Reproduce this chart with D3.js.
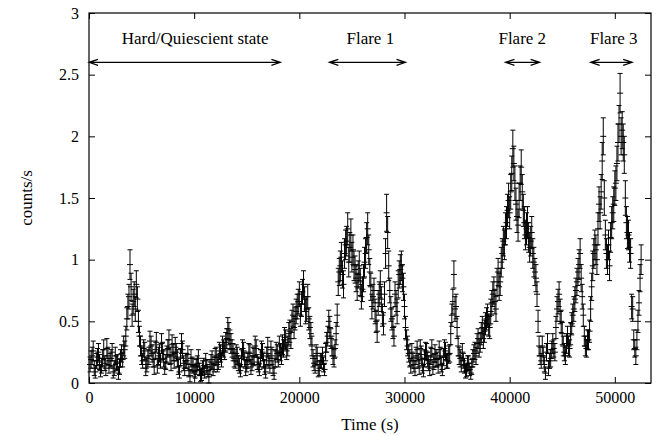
<!DOCTYPE html>
<html>
<head>
<meta charset="utf-8">
<script src="https://cdn.jsdelivr.net/npm/d3@7"></script>
<style>
  body { margin: 0; background: white; }
  svg { display: block; }
</style>
</head>
<body>
<svg id="chart" width="657" height="437"></svg>
<script>
// light curve: bin centre (s), rate (counts/s), 1-sigma error
const time = [
  100, 200, 300, 400, 500, 600, 700, 800, 900, 1000, 1100, 1200, 1300, 1400, 1500, 1600, 1700, 1800, 1900, 2000,
  2100, 2200, 2300, 2400, 2500, 2600, 2700, 2800, 2900, 3000, 3100, 3200, 3300, 3400, 3500, 3600, 3700, 3800, 3900, 4000,
  4100, 4200, 4300, 4400, 4500, 4600, 4700, 4800, 4900, 5000, 5100, 5200, 5300, 5400, 5500, 5600, 5700, 5800, 5900, 6000,
  6100, 6200, 6300, 6400, 6500, 6600, 6700, 6800, 6900, 7000, 7100, 7200, 7300, 7400, 7500, 7600, 7700, 7800, 7900, 8000,
  8100, 8200, 8300, 8400, 8500, 8600, 8700, 8800, 8900, 9000, 9100, 9200, 9300, 9400, 9500, 9600, 9700, 9800, 9900, 10000,
  10100, 10200, 10300, 10400, 10500, 10600, 10700, 10800, 10900, 11000, 11100, 11200, 11300, 11400, 11500, 11600, 11700, 11800, 11900, 12000,
  12100, 12200, 12300, 12400, 12500, 12600, 12700, 12800, 12900, 13000, 13100, 13200, 13300, 13400, 13500, 13600, 13700, 13800, 13900, 14000,
  14100, 14200, 14300, 14400, 14500, 14600, 14700, 14800, 14900, 15000, 15100, 15200, 15300, 15400, 15500, 15600, 15700, 15800, 15900, 16000,
  16100, 16200, 16300, 16400, 16500, 16600, 16700, 16800, 16900, 17000, 17100, 17200, 17300, 17400, 17500, 17600, 17700, 17800, 17900, 18000,
  18100, 18200, 18300, 18400, 18500, 18600, 18700, 18800, 18900, 19000, 19100, 19200, 19300, 19400, 19500, 19600, 19700, 19800, 19900, 20000,
  20100, 20200, 20300, 20400, 20500, 20600, 20700, 20800, 20900, 21000, 21100, 21200, 21300, 21400, 21500, 21600, 21700, 21800, 21900, 22000,
  22100, 22200, 22300, 22400, 22500, 22600, 22700, 22800, 22900, 23000, 23100, 23200, 23300, 23400, 23500, 23600, 23700, 23800, 23900, 24000,
  24100, 24200, 24300, 24400, 24500, 24600, 24700, 24800, 24900, 25000, 25100, 25200, 25300, 25400, 25500, 25600, 25700, 25800, 25900, 26000,
  26100, 26200, 26300, 26400, 26500, 26600, 26700, 26800, 26900, 27000, 27100, 27200, 27300, 27400, 27500, 27600, 27700, 27800, 27900, 28000,
  28100, 28200, 28300, 28400, 28500, 28600, 28700, 28800, 28900, 29000, 29100, 29200, 29300, 29400, 29500, 29600, 29700, 29800, 29900, 30000,
  30100, 30200, 30300, 30400, 30500, 30600, 30700, 30800, 30900, 31000, 31100, 31200, 31300, 31400, 31500, 31600, 31700, 31800, 31900, 32000,
  32100, 32200, 32300, 32400, 32500, 32600, 32700, 32800, 32900, 33000, 33100, 33200, 33300, 33400, 33500, 33600, 33700, 33800, 33900, 34000,
  34100, 34200, 34300, 34400, 34500, 34600, 34700, 34800, 34900, 35000, 35100, 35200, 35300, 35400, 35500, 35600, 35700, 35800, 35900, 36000,
  36100, 36200, 36300, 36400, 36500, 36600, 36700, 36800, 36900, 37000, 37100, 37200, 37300, 37400, 37500, 37600, 37700, 37800, 37900, 38000,
  38100, 38200, 38300, 38400, 38500, 38600, 38700, 38800, 38900, 39000, 39100, 39200, 39300, 39400, 39500, 39600, 39700, 39800, 39900, 40000,
  40100, 40200, 40300, 40400, 40500, 40600, 40700, 40800, 40900, 41000, 41100, 41200, 41300, 41400, 41500, 41600, 41700, 41800, 41900, 42000,
  42100, 42200, 42300, 42400, 42500, 42600, 42700, 42800, 42900, 43000, 43100, 43200, 43300, 43400, 43500, 43600, 43700, 43800, 43900, 44000,
  44100, 44200, 44300, 44400, 44500, 44600, 44700, 44800, 44900, 45000, 45100, 45200, 45300, 45400, 45500, 45600, 45700, 45800, 45900, 46000,
  46100, 46200, 46300, 46400, 46500, 46600, 46700, 46800, 46900, 47000, 47100, 47200, 47300, 47400, 47500, 47600, 47700, 47800, 47900, 48000,
  48100, 48200, 48300, 48400, 48500, 48600, 48700, 48800, 48900, 49000, 49100, 49200, 49300, 49400, 49500, 49600, 49700, 49800, 49900, 50000,
  50100, 50200, 50300, 50400, 50500, 50600, 50700, 50800, 50900, 51000, 51100, 51200, 51300, 51400, 51500, 51600, 51700, 51800, 51900, 52000,
  52100, 52200, 52300, 52400, 52500
];

const rate = [
  0.15, 0.19, 0.22, 0.26, 0.12, 0.09, 0.18, 0.21, 0.25, 0.17, 0.10, 0.14, 0.20, 0.27, 0.16, 0.12, 0.28, 0.22, 0.14, 0.18,
  0.20, 0.25, 0.09, 0.12, 0.22, 0.16, 0.17, 0.08, 0.13, 0.20, 0.24, 0.19, 0.30, 0.27, 0.38, 0.52, 0.62, 0.70, 0.96, 0.78,
  0.55, 0.66, 0.72, 0.60, 0.80, 0.68, 0.50, 0.38, 0.30, 0.22, 0.18, 0.28, 0.26, 0.12, 0.15, 0.20, 0.22, 0.34, 0.30, 0.24,
  0.19, 0.13, 0.27, 0.33, 0.14, 0.22, 0.24, 0.18, 0.32, 0.26, 0.20, 0.12, 0.17, 0.23, 0.28, 0.35, 0.22, 0.16, 0.31, 0.25,
  0.18, 0.29, 0.25, 0.20, 0.13, 0.09, 0.21, 0.32, 0.27, 0.16, 0.12, 0.18, 0.18, 0.23, 0.10, 0.06, 0.20, 0.15, 0.14, 0.10,
  0.09, 0.13, 0.16, 0.20, 0.11, 0.06, 0.07, 0.12, 0.14, 0.09, 0.18, 0.13, 0.10, 0.05, 0.13, 0.17, 0.19, 0.11, 0.15, 0.21,
  0.22, 0.15, 0.17, 0.26, 0.24, 0.19, 0.30, 0.28, 0.26, 0.33, 0.36, 0.44, 0.40, 0.35, 0.32, 0.28, 0.25, 0.20, 0.18, 0.24,
  0.22, 0.16, 0.14, 0.10, 0.20, 0.28, 0.26, 0.19, 0.12, 0.15, 0.18, 0.25, 0.24, 0.13, 0.16, 0.22, 0.21, 0.30, 0.28, 0.17,
  0.15, 0.11, 0.20, 0.27, 0.25, 0.18, 0.13, 0.09, 0.22, 0.29, 0.18, 0.14, 0.27, 0.22, 0.12, 0.08, 0.20, 0.26, 0.24, 0.19,
  0.30, 0.25, 0.22, 0.31, 0.28, 0.37, 0.35, 0.26, 0.30, 0.40, 0.42, 0.36, 0.50, 0.55, 0.45, 0.52, 0.58, 0.62, 0.66, 0.72,
  0.55, 0.64, 0.74, 0.80, 0.68, 0.58, 0.60, 0.70, 0.52, 0.45, 0.40, 0.30, 0.20, 0.16, 0.14, 0.24, 0.22, 0.10, 0.12, 0.18,
  0.18, 0.22, 0.15, 0.11, 0.25, 0.33, 0.38, 0.50, 0.45, 0.36, 0.30, 0.22, 0.20, 0.28, 0.40, 0.55, 0.82, 0.90, 0.95, 1.02,
  0.88, 0.80, 1.05, 1.12, 1.15, 1.25, 0.98, 1.10, 1.20, 1.02, 1.08, 0.95, 0.92, 0.85, 0.78, 0.88, 0.95, 0.82, 0.70, 0.76,
  0.85, 0.98, 1.05, 1.18, 1.25, 1.08, 0.90, 0.78, 0.62, 0.70, 0.75, 0.58, 0.50, 0.42, 0.65, 0.72, 0.80, 0.68, 0.55, 0.48,
  0.72, 1.05, 1.38, 1.22, 0.95, 0.75, 0.60, 0.52, 0.45, 0.38, 0.72, 0.65, 0.58, 0.80, 0.88, 0.92, 0.95, 0.85, 0.78, 0.62,
  0.45, 0.35, 0.30, 0.24, 0.20, 0.14, 0.25, 0.18, 0.15, 0.12, 0.22, 0.27, 0.18, 0.13, 0.28, 0.23, 0.14, 0.10, 0.20, 0.26,
  0.25, 0.19, 0.16, 0.12, 0.22, 0.28, 0.13, 0.17, 0.24, 0.20, 0.19, 0.14, 0.27, 0.22, 0.15, 0.11, 0.21, 0.28, 0.26, 0.18,
  0.18, 0.23, 0.24, 0.40, 0.55, 0.66, 0.88, 0.60, 0.62, 0.45, 0.30, 0.22, 0.20, 0.15, 0.25, 0.18, 0.14, 0.09, 0.10, 0.16,
  0.16, 0.11, 0.08, 0.13, 0.20, 0.24, 0.26, 0.22, 0.32, 0.36, 0.28, 0.33, 0.40, 0.45, 0.36, 0.42, 0.48, 0.52, 0.55, 0.47,
  0.45, 0.58, 0.65, 0.72, 0.75, 0.66, 0.60, 0.82, 0.90, 0.78, 0.82, 0.98, 1.05, 1.15, 1.12, 1.25, 1.30, 1.40, 1.48, 1.38,
  1.55, 1.70, 1.90, 1.78, 1.62, 1.45, 1.35, 1.28, 1.48, 1.62, 1.75, 1.55, 1.40, 1.30, 1.20, 1.25, 1.30, 1.18, 1.10, 1.15,
  1.22, 1.05, 0.98, 0.90, 0.85, 0.72, 0.50, 0.30, 0.22, 0.18, 0.30, 0.22, 0.15, 0.08, 0.25, 0.32, 0.12, 0.18, 0.20, 0.27,
  0.32, 0.28, 0.25, 0.45, 0.60, 0.66, 0.72, 0.58, 0.50, 0.40, 0.30, 0.25, 0.22, 0.32, 0.38, 0.30, 0.28, 0.40, 0.48, 0.55,
  0.60, 0.68, 0.75, 0.82, 0.90, 0.96, 1.05, 0.85, 0.70, 0.55, 0.38, 0.30, 0.28, 0.35, 0.35, 0.42, 0.60, 0.78, 0.95, 1.05,
  1.12, 1.08, 1.00, 1.25, 1.45, 1.38, 1.55, 1.80, 2.00, 1.50, 1.20, 1.05, 1.00, 1.12, 0.95, 1.18, 1.30, 1.38, 1.45, 1.58,
  1.62, 1.78, 1.95, 2.10, 2.35, 2.00, 2.05, 1.95, 1.85, 1.50, 1.30, 1.22, 1.20, 1.10, 1.05, 0.62, 0.60, 0.35, 0.28, 0.22,
  0.35, 0.50, 0.65, 0.85, 1.00
];

const rateErr = [
  0.06, 0.07, 0.07, 0.08, 0.06, 0.05, 0.06, 0.07, 0.07, 0.06, 0.05, 0.06, 0.07, 0.08, 0.06, 0.06, 0.08, 0.07, 0.06, 0.06,
  0.07, 0.07, 0.05, 0.06, 0.07, 0.06, 0.06, 0.05, 0.06, 0.07, 0.07, 0.06, 0.08, 0.07, 0.08, 0.09, 0.10, 0.10, 0.12, 0.11,
  0.09, 0.10, 0.10, 0.10, 0.11, 0.10, 0.09, 0.08, 0.08, 0.07, 0.06, 0.07, 0.07, 0.06, 0.06, 0.07, 0.07, 0.08, 0.08, 0.07,
  0.06, 0.06, 0.07, 0.08, 0.06, 0.07, 0.07, 0.06, 0.08, 0.07, 0.07, 0.05, 0.06, 0.07, 0.07, 0.08, 0.07, 0.06, 0.08, 0.07,
  0.06, 0.08, 0.07, 0.07, 0.06, 0.05, 0.07, 0.08, 0.07, 0.06, 0.06, 0.06, 0.06, 0.07, 0.05, 0.05, 0.07, 0.06, 0.06, 0.05,
  0.05, 0.06, 0.06, 0.07, 0.05, 0.05, 0.05, 0.06, 0.06, 0.05, 0.06, 0.06, 0.05, 0.05, 0.06, 0.06, 0.07, 0.05, 0.06, 0.07,
  0.07, 0.06, 0.06, 0.07, 0.07, 0.06, 0.08, 0.07, 0.07, 0.08, 0.08, 0.09, 0.09, 0.08, 0.08, 0.07, 0.07, 0.07, 0.06, 0.07,
  0.07, 0.06, 0.06, 0.05, 0.07, 0.07, 0.07, 0.06, 0.06, 0.06, 0.06, 0.07, 0.07, 0.06, 0.06, 0.07, 0.07, 0.08, 0.07, 0.06,
  0.06, 0.05, 0.07, 0.07, 0.07, 0.06, 0.06, 0.05, 0.07, 0.08, 0.06, 0.06, 0.07, 0.07, 0.06, 0.05, 0.07, 0.07, 0.07, 0.06,
  0.08, 0.07, 0.07, 0.08, 0.07, 0.08, 0.08, 0.07, 0.08, 0.09, 0.09, 0.08, 0.09, 0.09, 0.09, 0.09, 0.10, 0.10, 0.10, 0.10,
  0.09, 0.10, 0.10, 0.11, 0.10, 0.10, 0.10, 0.10, 0.09, 0.09, 0.09, 0.08, 0.07, 0.06, 0.06, 0.07, 0.07, 0.05, 0.06, 0.06,
  0.06, 0.07, 0.06, 0.05, 0.07, 0.08, 0.08, 0.09, 0.09, 0.08, 0.08, 0.07, 0.07, 0.07, 0.09, 0.09, 0.11, 0.11, 0.12, 0.12,
  0.11, 0.11, 0.12, 0.12, 0.12, 0.13, 0.12, 0.12, 0.13, 0.12, 0.12, 0.12, 0.11, 0.11, 0.11, 0.11, 0.12, 0.11, 0.10, 0.10,
  0.11, 0.12, 0.12, 0.12, 0.13, 0.12, 0.11, 0.11, 0.10, 0.10, 0.10, 0.10, 0.09, 0.09, 0.10, 0.10, 0.11, 0.10, 0.09, 0.09,
  0.10, 0.12, 0.15, 0.13, 0.12, 0.10, 0.10, 0.09, 0.09, 0.08, 0.10, 0.10, 0.10, 0.11, 0.11, 0.12, 0.12, 0.11, 0.11, 0.10,
  0.09, 0.08, 0.08, 0.07, 0.07, 0.06, 0.07, 0.06, 0.06, 0.06, 0.07, 0.07, 0.06, 0.06, 0.07, 0.07, 0.06, 0.05, 0.07, 0.07,
  0.07, 0.06, 0.06, 0.06, 0.07, 0.07, 0.06, 0.06, 0.07, 0.07, 0.06, 0.06, 0.07, 0.07, 0.06, 0.05, 0.07, 0.07, 0.07, 0.06,
  0.06, 0.07, 0.07, 0.09, 0.09, 0.10, 0.11, 0.10, 0.10, 0.09, 0.08, 0.07, 0.07, 0.06, 0.07, 0.06, 0.06, 0.05, 0.05, 0.06,
  0.06, 0.05, 0.05, 0.06, 0.07, 0.07, 0.07, 0.07, 0.08, 0.08, 0.07, 0.08, 0.09, 0.09, 0.08, 0.09, 0.09, 0.09, 0.09, 0.09,
  0.09, 0.10, 0.10, 0.10, 0.11, 0.10, 0.10, 0.11, 0.11, 0.11, 0.11, 0.12, 0.12, 0.12, 0.12, 0.13, 0.13, 0.13, 0.14, 0.13,
  0.14, 0.14, 0.15, 0.14, 0.14, 0.13, 0.13, 0.13, 0.14, 0.14, 0.14, 0.14, 0.13, 0.13, 0.12, 0.13, 0.13, 0.12, 0.12, 0.12,
  0.13, 0.12, 0.12, 0.11, 0.11, 0.10, 0.09, 0.08, 0.07, 0.06, 0.08, 0.07, 0.06, 0.05, 0.07, 0.08, 0.06, 0.06, 0.07, 0.07,
  0.08, 0.07, 0.07, 0.09, 0.10, 0.10, 0.10, 0.10, 0.09, 0.09, 0.08, 0.07, 0.07, 0.08, 0.08, 0.08, 0.07, 0.09, 0.09, 0.09,
  0.10, 0.10, 0.10, 0.11, 0.11, 0.12, 0.12, 0.11, 0.10, 0.09, 0.08, 0.08, 0.07, 0.08, 0.08, 0.09, 0.10, 0.11, 0.12, 0.12,
  0.12, 0.12, 0.12, 0.13, 0.14, 0.13, 0.14, 0.15, 0.15, 0.14, 0.12, 0.12, 0.12, 0.12, 0.12, 0.12, 0.13, 0.13, 0.14, 0.14,
  0.14, 0.14, 0.15, 0.15, 0.16, 0.15, 0.15, 0.15, 0.15, 0.14, 0.13, 0.13, 0.12, 0.12, 0.12, 0.10, 0.10, 0.08, 0.07, 0.07,
  0.08, 0.09, 0.10, 0.11, 0.12
];

const xTicks = [0, 10000, 20000, 30000, 40000, 50000];
const yTicks = [0, 0.5, 1, 1.5, 2, 2.5, 3];

// state intervals marked with double arrows, label centre in s
const stateNames = ['Hard/Quiescient state', 'Flare 1', 'Flare 2', 'Flare 3'];
const stateStart = [0, 22850, 39600, 47700];
const stateEnd = [18200, 30100, 42850, 51650];
const stateLabelAt = [10100, 26750, 41200, 49900];
const stateLevel = 2.6;

const margin = {top: 13, right: 6, bottom: 54, left: 89};
const width = 657 - margin.left - margin.right;
const height = 437 - margin.top - margin.bottom;

const font = "'Liberation Serif', 'Times New Roman', serif";
const tickFont = 16;
const labelFont = 17;

const x = d3.scaleLinear()
    .domain([0, 53440])
    .range([0, width]);

const y = d3.scaleLinear()
    .domain([0, 3])
    .range([height, 0]);

const svg = d3.select('#chart')
    .attr('font-family', font);

svg.append('rect')
    .attr('width', 657)
    .attr('height', 437)
    .attr('fill', 'white');

const g = svg.append('g')
    .attr('transform', `translate(${margin.left},${margin.top})`);

// axes: ticks point inward and are mirrored on top / right

const styleAxis = a => {
  a.attr('font-family', font);
  a.select('.domain').remove();
  a.selectAll('.tick line').attr('stroke', 'black');
  a.selectAll('text').attr('font-size', tickFont).attr('fill', 'black');
};

g.append('g')
    .attr('transform', `translate(0,${height})`)
    .call(d3.axisBottom(x).tickValues(xTicks).tickSizeInner(-6).tickSizeOuter(0).tickPadding(9).tickFormat(d3.format('d')))
    .call(styleAxis);

g.append('g')
    .call(d3.axisTop(x).tickValues(xTicks).tickSizeInner(-6).tickSizeOuter(0).tickFormat(''))
    .call(styleAxis);

g.append('g')
    .call(d3.axisLeft(y).tickValues(yTicks).tickSizeInner(-6).tickSizeOuter(0).tickPadding(10).tickFormat(d3.format('')))
    .call(styleAxis);

g.append('g')
    .attr('transform', `translate(${width},0)`)
    .call(d3.axisRight(y).tickValues(yTicks).tickSizeInner(-6).tickSizeOuter(0).tickFormat(''))
    .call(styleAxis);

// frame
g.append('rect')
    .attr('width', width)
    .attr('height', height)
    .attr('fill', 'none')
    .attr('stroke', 'black')
    .attr('stroke-width', 1.2);

// axis titles
g.append('text')
    .attr('x', width / 2)
    .attr('y', height + 47)
    .attr('text-anchor', 'middle')
    .attr('font-size', labelFont)
    .text('Time (s)');

g.append('text')
    .attr('transform', `translate(-62,${height / 2}) rotate(-90)`)
    .attr('text-anchor', 'middle')
    .attr('dy', '0.32em')
    .attr('font-size', labelFont)
    .text('counts/s');

// error bars with '+' markers

const cap = 2.5;
const data = time.map((t, i) => ({t: t, r: rate[i], e: rateErr[i]}));

g.append('g')
    .attr('stroke', 'black')
    .attr('stroke-width', 1)
    .attr('fill', 'none')
  .selectAll('path')
  .data(data)
  .join('path')
    .attr('d', d => {
      const cx = x(d.t);
      const y0 = y(d.r - d.e);
      const y1 = y(d.r + d.e);
      const cy = y(d.r);
      return `M${cx},${y0}V${y1}` +
        `M${cx - cap},${y0}H${cx + cap}` +
        `M${cx - cap},${y1}H${cx + cap}` +
        `M${cx - 3},${cy}H${cx + 3}`;
    });

// state arrows and names

const arrows = g.append('g');
const ay = y(stateLevel);

stateNames.forEach((name, i) => {
  const x0 = x(stateStart[i]);
  const x1 = x(stateEnd[i]);
  arrows.append('path')
      .attr('d', `M${x0},${ay}H${x1}` +
        `M${x0 + 9},${ay - 3}L${x0},${ay}L${x0 + 9},${ay + 3}` +
        `M${x1 - 9},${ay - 3}L${x1},${ay}L${x1 - 9},${ay + 3}`)
      .attr('fill', 'none')
      .attr('stroke', 'black')
      .attr('stroke-width', 1.2);

  arrows.append('text')
      .attr('x', x(stateLabelAt[i]))
      .attr('y', ay - 18)
      .attr('text-anchor', 'middle')
      .attr('font-size', labelFont)
      .text(name);
});
</script>
</body>
</html>
